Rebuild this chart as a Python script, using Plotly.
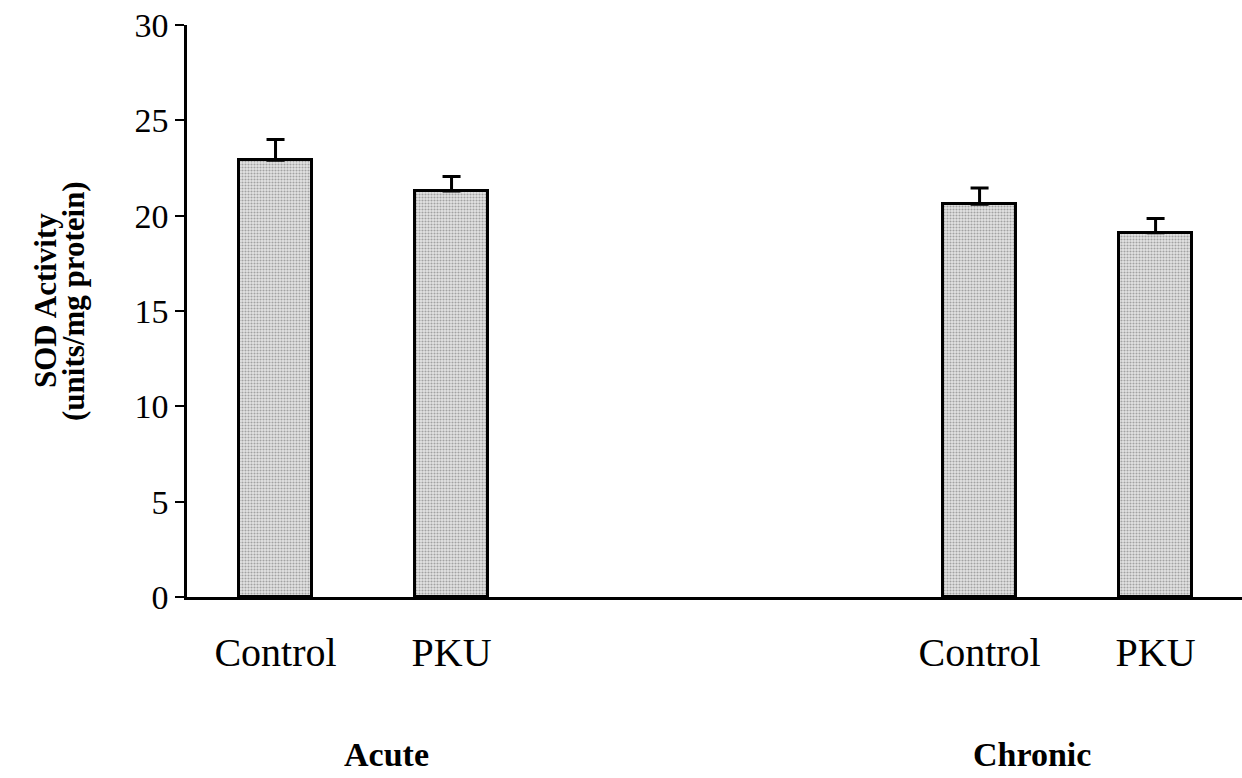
import plotly.graph_objects as go

# Data
categories = ["Control", "PKU", "Control", "PKU"]
positions = [0, 1, 4, 5]
sod_values = [22.9, 21.3, 20.6, 19.1]
sod_errors = [1.1, 0.75, 0.85, 0.75]
groups = ["Acute", "Chronic"]
group_positions = [0.63, 4.3]
y_ticks = [0, 5, 10, 15, 20, 25, 30]
y_title_lines = ["SOD Activity", "(units/mg protein)"]

FONT = "Liberation Serif"
PLOT_H = 572  # px height of plotting area
PLOT_W = 1055

fig = go.Figure()
fig.add_trace(go.Bar(
    x=positions,
    y=sod_values,
    width=0.415,
    marker=dict(
        color="#d0d0d0",
        line=dict(color="black", width=3),
        pattern=dict(shape=".", fgcolor="#606060", bgcolor="#e4e4e4", size=3, solidity=0.4),
    ),
    error_y=dict(
        type="data",
        symmetric=False,
        array=sod_errors,
        arrayminus=[0] * len(sod_errors),
        color="black",
        thickness=3,
        width=9,
    ),
    showlegend=False,
))

for g, gx in zip(groups, group_positions):
    fig.add_annotation(
        x=gx, xref="x", y=-(775 - 597) / PLOT_H, yref="paper",
        xanchor="center", yanchor="bottom",
        text=g, showarrow=False,
        font=dict(family=FONT, size=34, color="black", weight="bold"),
    )

for line, px in zip(y_title_lines, [45, 73]):
    fig.add_annotation(
        xref="paper", x=(px - 187) / PLOT_W, yref="paper", y=(597 - 301) / PLOT_H,
        xanchor="center", yanchor="middle",
        text=line, textangle=-90, showarrow=False,
        font=dict(family=FONT, size=31, color="black", weight="bold"),
    )

fig.update_layout(
    width=1242, height=778,
    margin=dict(l=187, r=0, t=25, b=181, autoexpand=False),
    paper_bgcolor="white", plot_bgcolor="white",
    font=dict(family=FONT, color="black"),
    bargap=0,
)
fig.update_xaxes(
    range=[-0.503, 5.491],
    tickvals=positions, ticktext=categories,
    ticks="", showgrid=False, zeroline=False,
    showline=True, linecolor="black", linewidth=3,
    tickfont=dict(family=FONT, size=40, color="black"),
    ticklabelstandoff=18,
    automargin=False,
)
fig.update_yaxes(
    range=[0, 30], tickvals=y_ticks,
    ticks="outside", ticklen=9, tickwidth=2, tickcolor="black",
    showgrid=False, zeroline=False,
    showline=True, linecolor="black", linewidth=2.5,
    tickfont=dict(family=FONT, size=34, color="black"),
    automargin=False,
)

fig.write_html(
    "out.html",
    config={"displayModeBar": False},
    post_script="document.body.style.margin='0px';document.body.style.overflow='hidden';",
)
